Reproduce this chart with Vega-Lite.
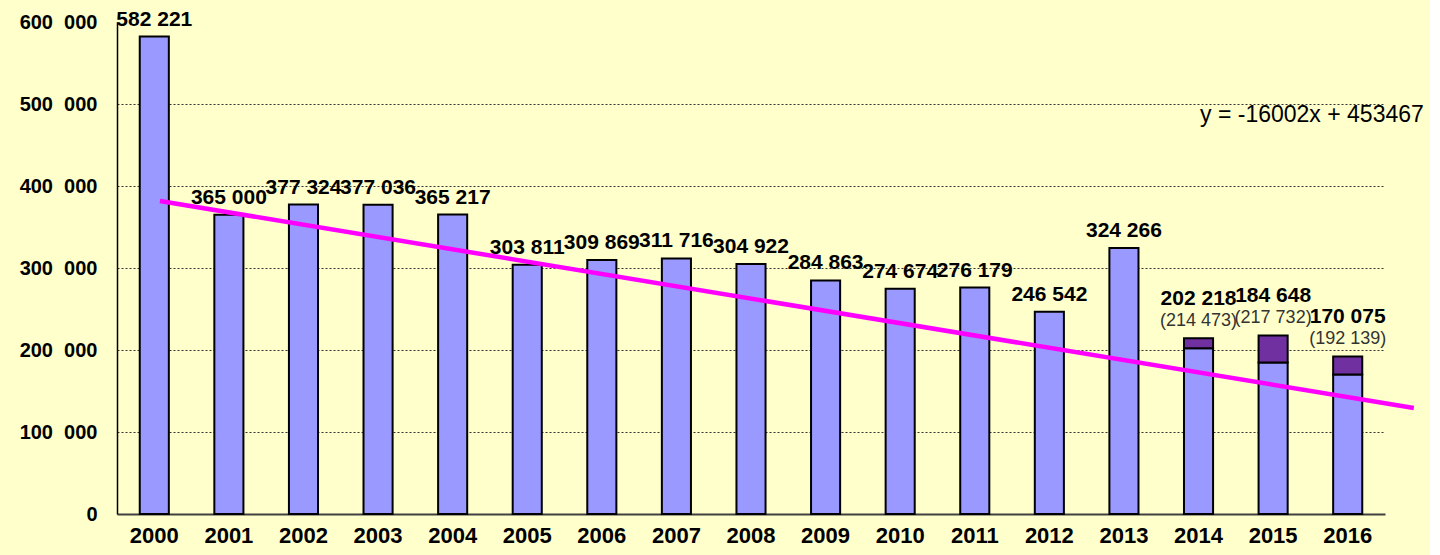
{
  "$schema": "https://vega.github.io/schema/vega-lite/v6.json",
  "autosize": {"type": "none"},
  "width": 1268,
  "height": 492,
  "padding": {"left": 117, "top": 22, "right": 45, "bottom": 41},
  "background": "#FFFFCC",
  "datasets": {
    "bars": [
      {"year": "2000", "value": 582221},
      {"year": "2001", "value": 365000},
      {"year": "2002", "value": 377324},
      {"year": "2003", "value": 377036},
      {"year": "2004", "value": 365217},
      {"year": "2005", "value": 303811},
      {"year": "2006", "value": 309869},
      {"year": "2007", "value": 311716},
      {"year": "2008", "value": 304922},
      {"year": "2009", "value": 284863},
      {"year": "2010", "value": 274674},
      {"year": "2011", "value": 276179},
      {"year": "2012", "value": 246542},
      {"year": "2013", "value": 324266},
      {"year": "2014", "value": 202218, "total": 214473},
      {"year": "2015", "value": 184648, "total": 217732},
      {"year": "2016", "value": 170075, "total": 192139}
    ],
    "trend": [
      {"t": 0.076, "v": 381700},
      {"t": 16.886, "v": 129300}
    ],
    "eq": [
      {"t": 14.02, "v": 486600, "label": "y = -16002x + 453467"}
    ]
  },
  "layer": [
    {
      "data": {"name": "bars"},
      "layer": [
        {
          "mark": {"type": "bar", "color": "#9999FF", "stroke": "#000000", "strokeWidth": 2},
          "encoding": {
            "x": {"field": "year", "type": "ordinal", "scale": {"paddingInner": 0.61, "paddingOuter": 0.305},
                  "axis": {"title": null, "labelAngle": 0, "labelFont": "Liberation Sans", "labelFontSize": 22, "labelFontWeight": "bold", "labelColor": "#000000", "labelPadding": 11, "ticks": false, "domainColor": "#404040", "domainWidth": 2}},
            "y": {"field": "value", "type": "quantitative", "scale": {"domain": [0, 600000]},
                  "axis": {"title": null, "values": [0, 100000, 200000, 300000, 400000, 500000, 600000], "format": ",d", "labelExpr": "replace(datum.label, ' ', '\u2007')", "labelFont": "Liberation Sans", "labelFontSize": 20, "labelFontWeight": "bold", "labelColor": "#000000", "labelPadding": 20, "ticks": false, "domainColor": "#000000", "domainWidth": 1.5, "grid": true, "gridColor": "#333333", "gridDash": [2, 2], "gridWidth": 1,
                           "gridOpacity": {"condition": {"test": "datum.value == 600000 || datum.value == 0", "value": 0}, "value": 1}}}
          }
        },
        {
          "transform": [{"filter": "isValid(datum.total)"}],
          "mark": {"type": "bar", "color": "#7030A0", "stroke": "#000000", "strokeWidth": 2},
          "encoding": {
            "x": {"field": "year", "type": "ordinal"},
            "y": {"field": "value", "type": "quantitative"},
            "y2": {"field": "total"}
          }
        },
        {
          "transform": [{"filter": "!isValid(datum.total)"}],
          "mark": {"type": "text", "font": "Liberation Sans", "fontSize": 21, "fontWeight": "bold", "color": "#000000", "baseline": "bottom", "dy": -7},
          "encoding": {
            "x": {"field": "year", "type": "ordinal"},
            "y": {"field": "value", "type": "quantitative"},
            "text": {"field": "value", "type": "quantitative", "format": ",d"}
          }
        },
        {
          "transform": [{"filter": "isValid(datum.total)"}],
          "mark": {"type": "text", "font": "Liberation Sans", "fontSize": 21, "fontWeight": "bold", "color": "#000000", "baseline": "bottom", "dy": -29},
          "encoding": {
            "x": {"field": "year", "type": "ordinal"},
            "y": {"field": "total", "type": "quantitative"},
            "text": {"field": "value", "type": "quantitative", "format": ",d"}
          }
        },
        {
          "transform": [
            {"filter": "isValid(datum.total)"},
            {"calculate": "'(' + replace(format(datum.total, ',d'), ',', ' ') + ')'", "as": "totalLabel"}
          ],
          "mark": {"type": "text", "font": "Liberation Sans", "fontSize": 18, "color": "#333333", "baseline": "bottom", "dy": -8},
          "encoding": {
            "x": {"field": "year", "type": "ordinal"},
            "y": {"field": "total", "type": "quantitative"},
            "text": {"field": "totalLabel"}
          }
        }
      ]
    },
    {
      "data": {"name": "trend"},
      "mark": {"type": "line", "color": "#FF00FF", "strokeWidth": 4.5, "clip": false},
      "encoding": {
        "x": {"field": "t", "type": "quantitative", "scale": {"domain": [-0.5, 16.5], "nice": false, "zero": false}, "axis": null},
        "y": {"field": "v", "type": "quantitative"}
      }
    },
    {
      "data": {"name": "eq"},
      "mark": {"type": "text", "font": "Liberation Sans", "fontSize": 23, "color": "#000000", "align": "left", "baseline": "middle", "clip": false},
      "encoding": {
        "x": {"field": "t", "type": "quantitative", "scale": {"domain": [-0.5, 16.5], "nice": false, "zero": false}, "axis": null},
        "y": {"field": "v", "type": "quantitative"},
        "text": {"field": "label"}
      }
    }
  ],
  "resolve": {"scale": {"x": "independent"}},
  "config": {
    "locale": {"number": {"decimal": ",", "thousands": " ", "grouping": [3], "currency": ["", ""]}},
    "view": {"stroke": null}
  }
}
